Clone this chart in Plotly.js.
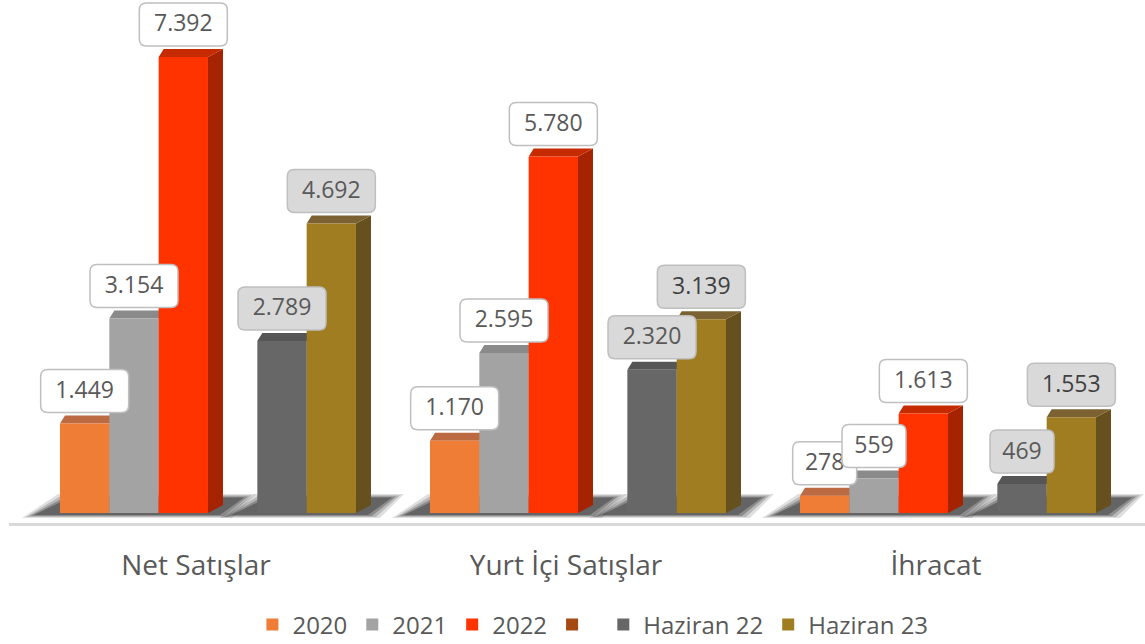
<!DOCTYPE html>
<html>
<head>
<meta charset="utf-8">
<script src="https://cdn.plot.ly/plotly-3.0.1.min.js"></script>
<style>html,body{margin:0;padding:0;background:#fff;}#chart{width:1145px;height:644px;}</style>
</head>
<body>
<div id="chart"></div>
<script>
// ---- data ----
const categories = ['Net Satışlar', 'Yurt İçi Satışlar', 'İhracat'];
const seriesNames = ['2020', '2021', '2022', ' ', 'Haziran 22', 'Haziran 23'];
const v2020 = [1449, 1170, 278];
const v2021 = [3154, 2595, 559];
const v2022 = [7392, 5780, 1613];
const vBlank = [0, 0, 0];
const vHaz22 = [2789, 2320, 469];
const vHaz23 = [4692, 3139, 1553];

// ---- styling ----
const seriesValues = [v2020, v2021, v2022, vBlank, vHaz22, vHaz23];
const frontColors = ['#EF7D36', '#A3A3A3', '#FF3300', '#A64A14', '#676767', '#A17D22'];
const topColors   = ['#BC6A42', '#8A8A8A', '#C62A00', '#8A3A10', '#555555', '#7C6232'];
const sideColors  = ['#B05A2A', '#7F7F7F', '#A52300', '#7A3208', '#484848', '#66501E'];
const labelFill   = ['#FFFFFF', '#FFFFFF', '#FFFFFF', '#FFFFFF', '#D9D9D9', '#D9D9D9'];
const labelColor  = [['#595959','#595959','#595959'], ['#595959','#595959','#595959'], ['#595959','#595959','#595959'],
                     ['#595959','#595959','#595959'], ['#595959','#595959','#595959'], ['#595959','#404040','#404040']];

const W = 1145, H = 644;
const margin = {l: 9, r: 0, t: 0, b: 121, autoexpand: false};
const plotW = W - margin.l - margin.r, plotH = H - margin.t - margin.b;
const xRange = [-0.5378, 2.5324];
const yRange = [-162, 8315];
const pxX = (xRange[1] - xRange[0]) / plotW;   // data units per pixel
const pxY = (yRange[1] - yRange[0]) / plotH;

const bargap = 0.2;
const nS = seriesNames.length;
const barW = (1 - bargap) / nS;
const xs = categories.map((c, i) => i);

function fmt(v) {
  return String(v).replace(/\B(?=(\d{3})+(?!\d))/g, '.');
}

const traces = seriesNames.map((name, s) => ({
  type: 'bar',
  name: name,
  x: xs,
  y: seriesValues[s],
  marker: {color: frontColors[s], line: {width: 0}},
  hoverinfo: 'skip'
}));

const shapes = [];
// floor shadows (soft, layered)
const subgroups = [[0, 2], [4, 5]];
xs.forEach((xc) => {
  subgroups.forEach(([a, b]) => {
    const xl = xc - (1 - bargap) / 2 + barW * a;
    const xr = xc - (1 - bargap) / 2 + barW * (b + 1);
    [[0, 0.14], [4, 0.2], [8, 0.28], [12, 0.36]].forEach(([ins, op]) => {
      const p = [
        [xl - (38 - ins) * pxX, -(5 - ins * 0.25) * pxY],
        [xr + (24 - ins) * pxX, -(5 - ins * 0.25) * pxY],
        [xr + (48 - ins) * pxX, (19 - ins * 0.3) * pxY],
        [xl - (2 - ins) * pxX, (19 - ins * 0.3) * pxY]
      ];
      shapes.push({
        type: 'path', layer: 'below', xref: 'x', yref: 'y',
        path: 'M' + p.map(q => q[0] + ',' + q[1]).join('L') + 'Z',
        fillcolor: 'rgba(30,30,30,' + op + ')', line: {width: 0}
      });
    });
  });
});

// 3D top and side faces
const dxL = 5 * pxX, dxR = 15 * pxX, dy = 8 * pxY;
seriesValues.forEach((vals, s) => {
  vals.forEach((v, i) => {
    if (!v) return;
    const xl = xs[i] - (1 - bargap) / 2 + barW * s;
    const xr = xl + barW;
    shapes.push({
      type: 'path', layer: 'below', xref: 'x', yref: 'y',
      path: `M${xr},0L${xr + dxR},${dy}L${xr + dxR},${v + dy}L${xr},${v}Z`,
      fillcolor: sideColors[s], line: {width: 0}
    });
    shapes.push({
      type: 'path', layer: 'below', xref: 'x', yref: 'y',
      path: `M${xl},${v}L${xr},${v}L${xr + dxR},${v + dy}L${xl + dxL},${v + dy}Z`,
      fillcolor: topColors[s], line: {width: 0}
    });
  });
});

// data label boxes (rounded) with text
function roundRect(w, h, g, r) {
  const x0 = -w / 2, x1 = w / 2, y0 = g, y1 = g + h;
  return `M${x0 + r},${y0}L${x1 - r},${y0}Q${x1},${y0} ${x1},${y0 + r}L${x1},${y1 - r}Q${x1},${y1} ${x1 - r},${y1}` +
         `L${x0 + r},${y1}Q${x0},${y1} ${x0},${y1 - r}L${x0},${y0 + r}Q${x0},${y0} ${x0 + r},${y0}Z`;
}
seriesValues.forEach((vals, s) => {
  vals.forEach((v, i) => {
    if (!v) return;
    const xc = xs[i] - (1 - bargap) / 2 + barW * (s + 0.5);
    const txt = fmt(v);
    const bw = txt.length * 12 + 28;
    shapes.push({
      type: 'path', layer: 'above',
      xref: 'x', yref: 'y', xsizemode: 'pixel', ysizemode: 'pixel',
      xanchor: xc, yanchor: v,
      path: roundRect(bw, 43, 11, 7),
      fillcolor: labelFill[s], line: {color: '#BFBFBF', width: 1.5},
      label: {text: txt, textposition: 'middle center',
              font: {family: 'Open Sans, Noto Sans, sans-serif', size: 23, color: labelColor[s][i]}}
    });
  });
});

const layout = {
  width: W, height: H,
  margin: margin,
  paper_bgcolor: '#FFFFFF', plot_bgcolor: 'rgba(0,0,0,0)',
  barmode: 'group', bargap: bargap, bargroupgap: 0,
  font: {family: 'Open Sans, Noto Sans, sans-serif', color: '#595959'},
  showlegend: true,
  legend: {
    orientation: 'h', x: 0.514, xanchor: 'center', y: -0.152, yanchor: 'top',
    font: {size: 24, color: '#595959'}, traceorder: 'normal', itemclick: false
  },
  xaxis: {
    range: xRange, tickmode: 'array', tickvals: xs, ticktext: categories,
    showgrid: false, zeroline: false, ticks: '',
    showline: true, linecolor: '#D9D9D9', linewidth: 2.5,
    tickfont: {size: 28, color: '#595959'},
    ticklabelstandoff: 16, ticklabelshift: -12,
    fixedrange: true
  },
  yaxis: {
    range: yRange, visible: false, showgrid: false, zeroline: false, fixedrange: true
  },
  shapes: shapes
};

Plotly.newPlot('chart', traces, layout, {displayModeBar: false, staticPlot: true});
</script>
</body>
</html>
